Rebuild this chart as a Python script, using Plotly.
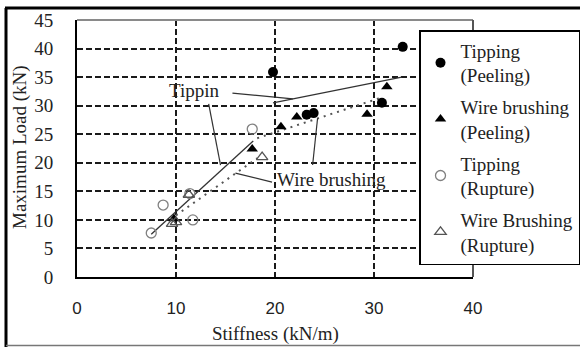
import plotly.graph_objects as go

# ---------------- data ----------------
tip_peel_x = [19.8, 32.9, 30.8, 23.2, 23.9]
tip_peel_y = [35.9, 40.3, 30.5, 28.4, 28.7]

wire_peel_x = [9.8, 17.7, 20.6, 22.2, 29.3, 31.3]
wire_peel_y = [10.2, 22.4, 26.3, 28.0, 28.5, 33.3]

tip_rup_x = [7.5, 8.7, 11.7, 17.7, 11.4]
tip_rup_y = [7.7, 12.6, 10.0, 25.9, 14.6]

wire_rup_x = [11.3, 18.7, 9.6, 10.0]
wire_rup_y = [14.4, 21.0, 9.3, 9.6]

# trend lines (end points)
tip_trend_low_x = [7.5, 17.8]
tip_trend_low_y = [7.5, 23.8]
tip_trend_up_x = [19.8, 32.8]
tip_trend_up_y = [30.5, 35.0]
wire_trend_low_x = [10.0, 18.2]
wire_trend_low_y = [10.8, 20.8]
wire_trend_up_x = [18.2, 30.9]
wire_trend_up_y = [24.3, 31.5]

x_ticks = [0, 10, 20, 30, 40]
y_ticks = [0, 5, 10, 15, 20, 25, 30, 35, 40, 45]

SERIF = "Liberation Serif, Times New Roman, serif"

fig = go.Figure()

# trend lines (not in legend)
for xs, ys, dash, col, w in [
    (tip_trend_low_x, tip_trend_low_y, "solid", "#333333", 1.3),
    (tip_trend_up_x, tip_trend_up_y, "solid", "#333333", 1.3),
    (wire_trend_low_x, wire_trend_low_y, "2px,5px", "#555555", 2),
    (wire_trend_up_x, wire_trend_up_y, "2px,5px", "#555555", 2),
]:
    fig.add_trace(go.Scatter(x=xs, y=ys, mode="lines", showlegend=False,
                             line=dict(color=col, width=w, dash=dash),
                             hoverinfo="skip"))

fig.add_trace(go.Scatter(x=tip_peel_x, y=tip_peel_y, mode="markers",
                         name="Tipping<br>(Peeling)", legendgroup="g1",
                         marker=dict(symbol="circle", size=10, color="black")))
fig.add_trace(go.Scatter(x=wire_peel_x, y=wire_peel_y, mode="markers",
                         name="Wire brushing<br>(Peeling)", legendgroup="g2",
                         marker=dict(symbol="triangle-up", size=10, color="black")))
fig.add_trace(go.Scatter(x=tip_rup_x, y=tip_rup_y, mode="markers",
                         name="Tipping<br>(Rupture)", legendgroup="g3",
                         marker=dict(symbol="circle-open", size=10, color="#808080",
                                     line=dict(width=1.3, color="#808080"))))
fig.add_trace(go.Scatter(x=wire_rup_x, y=wire_rup_y, mode="markers",
                         name="Wire Brushing<br>(Rupture)", legendgroup="g4",
                         marker=dict(symbol="triangle-up-open", size=10, color="#555555",
                                     line=dict(width=1.3, color="#555555"))))

grid_common = dict(showgrid=True, gridcolor="#1a1a1a", gridwidth=1.5,
                   griddash="6px,3px", zeroline=False, automargin=False)

fig.update_xaxes(range=[0, 40], tickvals=x_ticks, ticktext=[str(v) for v in x_ticks],
                 showline=True, linecolor="black", linewidth=2,
                 ticks="outside", ticklen=15, tickcolor="rgba(0,0,0,0)",
                 tickfont=dict(family="Liberation Sans, Arial, sans-serif", size=17, color="#222"),
                 **grid_common)
fig.update_yaxes(range=[0, 45], tickvals=y_ticks, ticktext=[str(v) for v in y_ticks],
                 showline=True, linecolor="black", linewidth=2,
                 ticks="outside", ticklen=18, tickcolor="rgba(0,0,0,0)",
                 tickfont=dict(family=SERIF, size=19, color="#222"),
                 **grid_common)

L, R, T, B = 77, 107, 20, 70
W, H = 580, 347
pw, ph = W - L - R, H - T - B


def px(xp):
    return (xp - L) / pw


def py(yp):
    return (H - B - yp) / ph


shapes = [
    # plot top and right border (gray)
    dict(type="line", xref="paper", yref="paper", x0=0, x1=1, y0=1, y1=1,
         line=dict(color="#8a8a8a", width=2)),
    dict(type="line", xref="paper", yref="paper", x0=1, x1=1, y0=0, y1=1,
         line=dict(color="#555555", width=2)),
    # outer frame
    dict(type="line", xref="paper", yref="paper", x0=px(5), x1=px(580), y0=py(8), y1=py(8),
         line=dict(color="black", width=3), layer="above"),
    dict(type="line", xref="paper", yref="paper", x0=px(6), x1=px(6), y0=py(8), y1=py(347),
         line=dict(color="black", width=3), layer="above"),
    dict(type="line", xref="paper", yref="paper", x0=px(6), x1=px(580), y0=py(345.5), y1=py(345.5),
         line=dict(color="#777777", width=1.5), layer="above"),
    # leader lines
    dict(type="line", x0=15.7, y0=32.2, x1=21.8, y1=31.2, line=dict(color="#333", width=1.2)),
    dict(type="line", x0=13.3, y0=30.3, x1=14.5, y1=19.6, line=dict(color="#333", width=1.2)),
    dict(type="line", x0=16.0, y0=18.2, x1=19.7, y1=16.6, line=dict(color="#333", width=1.2)),
    dict(type="line", x0=23.8, y0=19.6, x1=24.3, y1=27.8, line=dict(color="#333", width=1.2)),
]

annotations = [
    dict(x=11.8, y=32.7, text="Tippin", showarrow=False,
         font=dict(family=SERIF, size=19, color="#222")),
    dict(x=25.7, y=17.0, text="Wire brushing", showarrow=False,
         font=dict(family=SERIF, size=19, color="#222")),
    dict(xref="paper", yref="paper", x=px(20), y=py(147), text="Maximum Load (kN)",
         textangle=-90, showarrow=False, xanchor="center", yanchor="middle",
         font=dict(family=SERIF, size=19, color="#222")),
    dict(xref="paper", yref="paper", x=px(275), y=py(334), text="Stiffness (kN/m)",
         showarrow=False, xanchor="center", yanchor="middle",
         font=dict(family=SERIF, size=19, color="#222")),
]

fig.update_layout(
    width=W, height=H,
    margin=dict(l=L, r=R, t=T, b=B, autoexpand=False),
    paper_bgcolor="white", plot_bgcolor="white",
    shapes=shapes, annotations=annotations,
    legend=dict(x=px(419), y=py(30), xanchor="left", yanchor="top",
                bgcolor="white", bordercolor="black", borderwidth=1.5,
                font=dict(family=SERIF, size=19, color="#222"),
                itemwidth=30, tracegroupgap=4, traceorder="grouped"),
    showlegend=True,
)

fig.write_html("out.html", config={"displayModeBar": False},
               post_script="document.body.style.margin='0';document.body.style.padding='0';")
